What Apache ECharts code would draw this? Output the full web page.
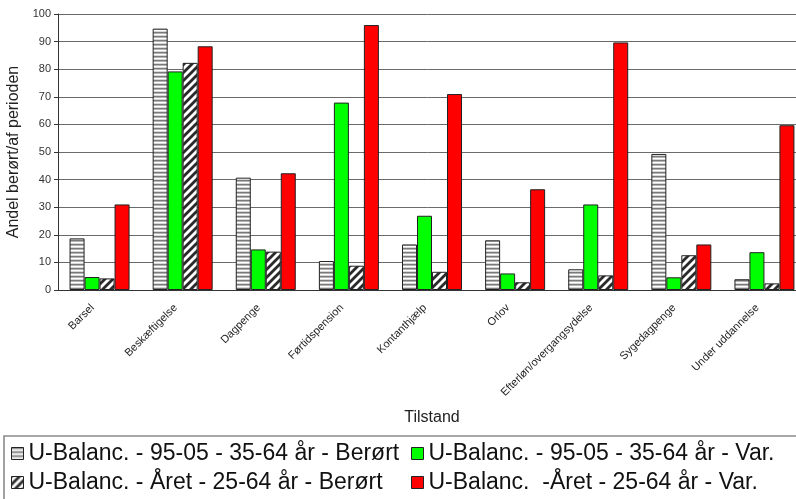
<!DOCTYPE html>
<html>
<head>
<meta charset="utf-8">
<script src="https://cdn.jsdelivr.net/npm/echarts@6/dist/echarts.min.js"></script>
<style>
  html, body { margin: 0; padding: 0; background: #fff; }
  #chart { width: 796px; height: 499px; }
</style>
</head>
<body>
<div id="chart"></div>
<script>
// Categories (Tilstand) and the four series, in percent
const categories = ['Barsel', 'Beskæftigelse', 'Dagpenge', 'Førtidspension', 'Kontanthjælp',
  'Orlov', 'Efterløn/overgangsydelse', 'Sygedagpenge', 'Under uddannelse'];

const seriesNames = [
  'U-Balanc. - 95-05 - 35-64 år - Berørt',
  'U-Balanc. - 95-05 - 35-64 år - Var.',
  'U-Balanc. - Året - 25-64 år - Berørt',
  'U-Balanc.  -Året - 25-64 år - Var.'
];

const berort9505 = [18.7, 94.7, 40.7, 10.5, 16.5, 18.0, 7.5, 49.3, 3.9];
const var9505    = [4.7, 79.2, 14.7, 67.9, 26.9, 6.0, 31.0, 4.6, 13.7];
const berortAret = [4.2, 82.3, 13.9, 8.8, 6.6, 2.8, 5.3, 12.6, 2.4];
const varAret    = [31.0, 88.3, 42.3, 96.0, 71.0, 36.5, 89.7, 16.5, 59.7];

const yTicks = { min: 0, max: 100, step: 10 };

// Fill patterns
function stripePattern() {
  const c = document.createElement('canvas');
  c.width = 4; c.height = 4;
  const g = c.getContext('2d');
  const rows = ['#7a7a7a', '#b4b4b4', '#ffffff', '#d8d8d8'];
  rows.forEach((col, i) => { g.fillStyle = col; g.fillRect(0, i, 4, 1); });
  return { image: c, repeat: 'repeat' };
}
function hatchPattern() {
  const s = 8;
  const c = document.createElement('canvas');
  c.width = s; c.height = s;
  const g = c.getContext('2d');
  g.fillStyle = '#ffffff';
  g.fillRect(0, 0, s, s);
  g.strokeStyle = '#2a2a2a';
  g.lineWidth = 2.8;
  g.beginPath();
  g.moveTo(-s, s * 2); g.lineTo(s * 2, -s);
  g.moveTo(-s * 2, s * 2); g.lineTo(s, -s);
  g.moveTo(0, s * 2); g.lineTo(s * 3, -s);
  g.stroke();
  return { image: c, repeat: 'repeat' };
}

const fills = [stripePattern(), '#00ff00', hatchPattern(), '#ff0000'];
const values = [berort9505, var9505, berortAret, varAret];

const font = "'Liberation Sans', Arial, sans-serif";
const chart = echarts.init(document.getElementById('chart'), null, { renderer: 'canvas' });

// Legend laid out as two aligned columns inside a framed box
const legendPos = [
  { left: 11, top: 442 },
  { left: 411, top: 442 },
  { left: 11, top: 471 },
  { left: 411, top: 471 }
];

chart.setOption({
  animation: false,
  backgroundColor: '#ffffff',
  textStyle: { fontFamily: font },
  // plot area runs a little past the right edge of the canvas
  grid: { left: 58, top: 14, width: 748, height: 276, containLabel: false, outerBoundsMode: 'none' },
  graphic: [{
    type: 'rect',
    shape: { x: 4, y: 436, width: 820, height: 90 },
    style: { fill: 'none', stroke: '#8a8a8a', lineWidth: 1.6 },
    z: 0
  }],
  legend: seriesNames.map((n, i) => ({
    data: [n],
    left: legendPos[i].left,
    top: legendPos[i].top,
    padding: 0,
    icon: 'rect',
    itemWidth: 12,
    itemHeight: 12,
    itemStyle: { borderColor: '#222', borderWidth: 1 },
    textStyle: { fontFamily: font, fontSize: 23, color: '#111' },
    selectedMode: false
  })),
  xAxis: {
    type: 'category',
    data: categories,
    name: 'Tilstand',
    nameLocation: 'middle',
    nameGap: 120,
    nameTextStyle: { fontSize: 16, color: '#222', fontFamily: font },
    axisLine: { lineStyle: { color: '#333', width: 1 } },
    axisTick: { length: 5, lineStyle: { color: '#333' } },
    axisLabel: {
      rotate: 45, fontSize: 11, color: '#222', margin: 9, padding: [0, 10, 0, 0],
      fontFamily: font, interval: 0
    }
  },
  yAxis: {
    type: 'value',
    min: yTicks.min,
    max: yTicks.max,
    interval: yTicks.step,
    name: 'Andel berørt/af perioden',
    nameLocation: 'middle',
    nameRotate: 90,
    nameGap: 33,
    nameTextStyle: { fontSize: 16, color: '#222', fontFamily: font },
    axisLine: { show: true, lineStyle: { color: '#333' } },
    axisTick: { show: true, length: 4, lineStyle: { color: '#333' } },
    axisLabel: { fontSize: 11, color: '#333', margin: 7, fontFamily: font },
    splitLine: { lineStyle: { color: '#6a6a6a', width: 1 } }
  },
  series: seriesNames.map((n, i) => ({
    type: 'bar',
    name: n,
    data: values[i],
    barWidth: 15,
    barGap: '0%',
    itemStyle: { color: fills[i], borderColor: '#222', borderWidth: 1 }
  }))
});
</script>
</body>
</html>
